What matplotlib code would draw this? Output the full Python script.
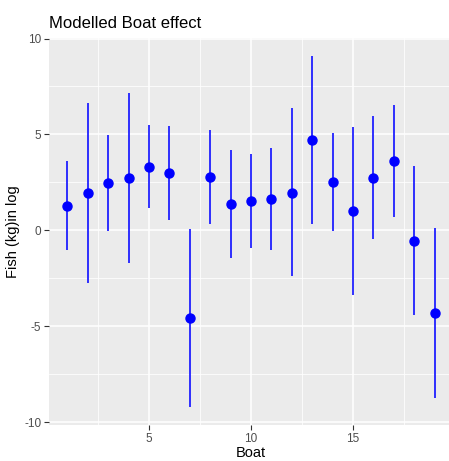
import matplotlib.pyplot as plt
import numpy as np

plt.rcParams['font.family'] = ['Liberation Sans', 'DejaVu Sans']
plt.rcParams['axes.unicode_minus'] = False

boat = list(range(1, 20))
estimate = [1.28, 1.94, 2.46, 2.75, 3.32, 2.98, -4.57, 2.77, 1.35, 1.53,
            1.61, 1.97, 4.71, 2.53, 1.01, 2.75, 3.60, -0.54, -4.31]
upper = [3.62, 6.62, 4.95, 7.14, 5.51, 5.44, 0.09, 5.23, 4.19, 3.97,
         4.31, 6.36, 9.11, 5.09, 5.39, 5.96, 6.53, 3.36, 0.10]
lower = [-1.04, -2.73, -0.03, -1.71, 1.14, 0.54, -9.23, 0.31, -1.45, -0.94,
         -1.02, -2.39, 0.35, -0.05, -3.38, -0.45, 0.71, -4.40, -8.73]

W, H = 449, 461
fig = plt.figure(figsize=(W / 100, H / 100), dpi=100)
# panel runs a bit past the right edge of the picture, as in the reference
ax = fig.add_axes([49 / W, (H - 425) / H, 404 / W, 387 / H])
ax.set_facecolor('#EBEBEB')
for s in ax.spines.values():
    s.set_visible(False)

ax.vlines(boat, lower, upper, color='#2020FF', linewidth=1.3, zorder=3)
ax.plot(boat, estimate, 'o', color='blue', markersize=6.5, zorder=4)

# ggplot-like 5% expansion
x0, x1 = min(boat), max(boat)
y0, y1 = min(lower), max(upper)
ax.set_xlim(x0 - 0.05 * (x1 - x0), x1 + 0.05 * (x1 - x0))
ax.set_ylim(y0 - 0.05 * (y1 - y0), y1 + 0.05 * (y1 - y0))

ax.set_xticks([5, 10, 15])
ax.set_yticks([-10, -5, 0, 5, 10])
ax.set_xticks([2.5, 7.5, 12.5, 17.5], minor=True)
ax.set_yticks([-7.5, -2.5, 2.5, 7.5], minor=True)
ax.grid(which='major', color='white', linewidth=1.1)
ax.grid(which='minor', color='white', linewidth=0.55)
ax.set_axisbelow(True)
ax.tick_params(which='major', length=3.5, width=0.8, color='#333333',
               labelcolor='#4D4D4D', labelsize=8.5, pad=2)
ax.tick_params(which='minor', length=0)

ax.set_xlabel('Boat', fontsize=10.5, color='black', labelpad=1)
ax.set_ylabel('Fish (kg)in log', fontsize=10.5, color='black', labelpad=3)
ax.set_title('Modelled Boat effect', fontsize=12, loc='left', pad=7)

fig.savefig('out.png', dpi=100)
